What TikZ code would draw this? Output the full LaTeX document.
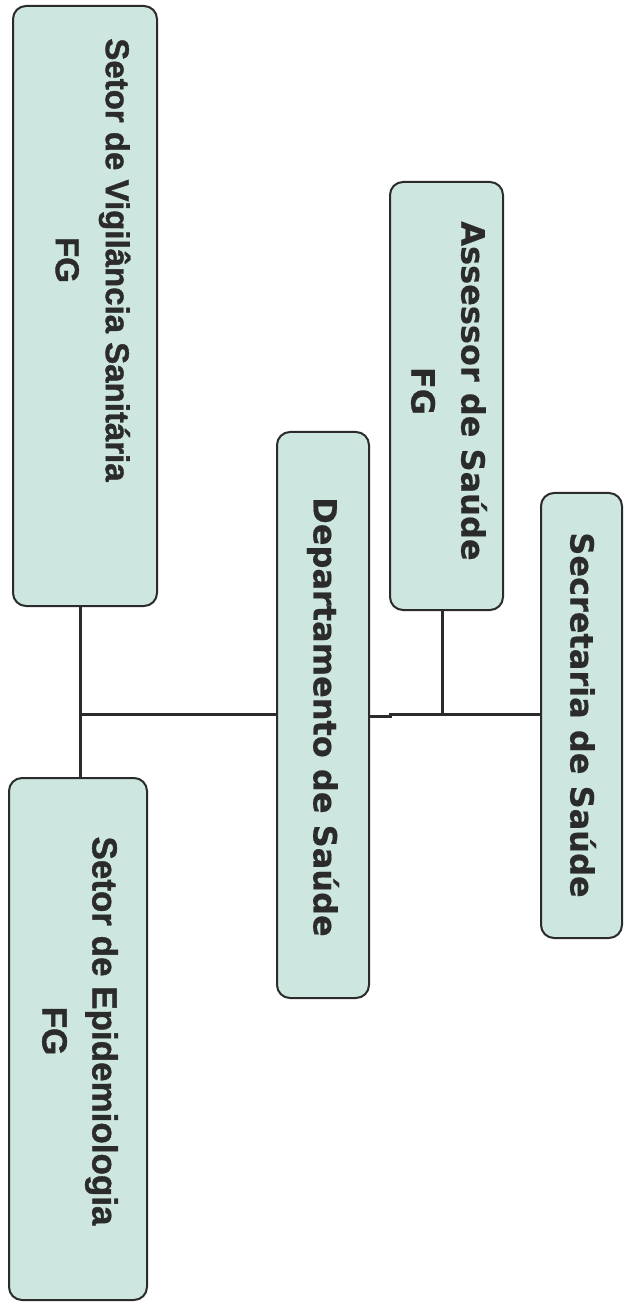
\documentclass[tikz,border=0pt]{standalone}
\usepackage{fontspec}
\usetikzlibrary{fit}
\newfontfamily\arialbold{Liberation Sans Bold}[FakeBold=1.2]
\newfontfamily\tahfam{DejaVu Sans}[BoldFont={DejaVu Sans Bold}, BoldFeatures={FakeBold=0.4}]
\definecolor{boxfill}{HTML}{CDE6DF}
\definecolor{inkline}{HTML}{2B2B2B}
\tikzset{
  orgbox/.style={draw=inkline, line width=1pt, fill=boxfill, rounded corners=6.5pt, inner sep=0pt},
  labA/.style={rotate=-90, align=center, text=inkline, font=\arialbold\fontsize{16.5}{25}\selectfont, inner sep=0pt},
  labT/.style={rotate=-90, align=center, text=inkline, font=\tahfam\bfseries\fontsize{16}{25}\selectfont, inner sep=0pt},
  conn/.style={draw=inkline, line width=1.5pt}
}
\begin{document}
\begin{tikzpicture}[x=0.5pt, y=-0.5pt]
\useasboundingbox (0,0) rectangle (624,1309);
% boxes
\node[orgbox, fit={(13,6) (157,606)}] (vig) {};
\node[orgbox, fit={(9,778) (147,1300)}] (epi) {};
\node[orgbox, fit={(277,432) (369,998)}] (dep) {};
\node[orgbox, fit={(390,182) (503,610)}] (ass) {};
\node[orgbox, fit={(541,493) (622,938)}] (sec) {};
% labels
\node[labA] (vigT) at (93,260) {Setor de Vigilância Sanitária\\FG};
\node[labA, font=\arialbold\fontsize{17.5}{25}\selectfont] (epiT) at (80,1031) {Setor de Epidemiologia\\FG};
\node[labT] (depT) at (323,717) {Departamento de Saúde};
\node[labT] (assT) at (449,391) {Assessor de Saúde\\FG};
\node[labT] (secT) at (583,715) {Secretaria de Saúde};
% connector coordinates
\coordinate (jv) at (80,714);
\coordinate (ja) at (442,714);
\coordinate (jog) at (390,716);
% connectors
\draw[conn] (jv |- vig.south) -- (jv |- epi.north);
\draw[conn] (jv) -- (jv -| dep.west);
\draw[conn] (dep.east |- jog) -- (jog) -- (jog |- ja) -- (ja) -- (ja -| sec.west);
\draw[conn] (ja |- ass.south) -- (ja);
\end{tikzpicture}
\end{document}
